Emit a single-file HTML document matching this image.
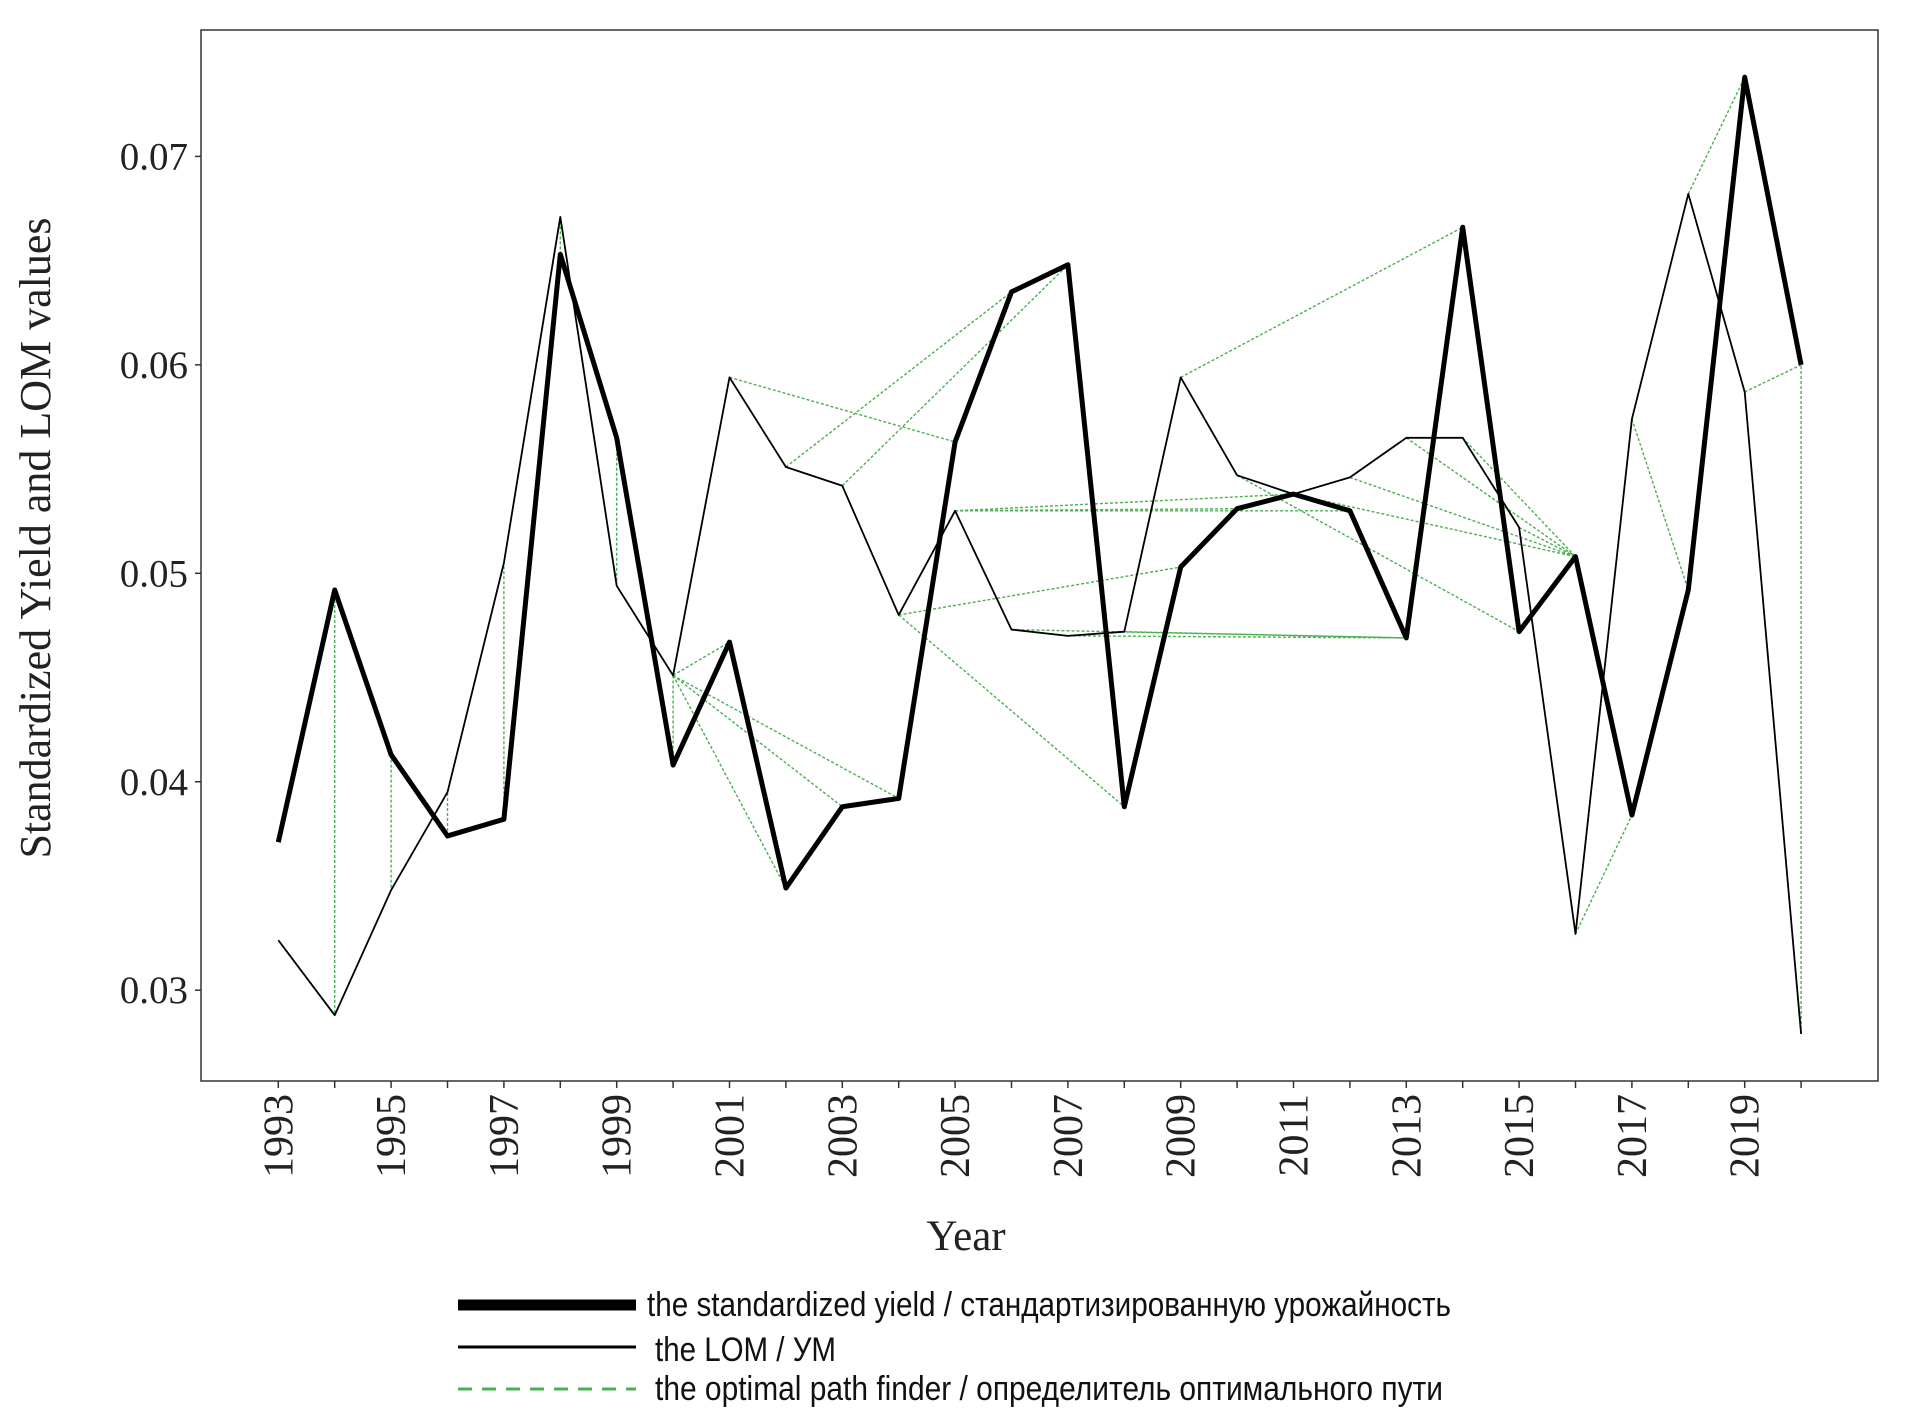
<!DOCTYPE html>
<html><head><meta charset="utf-8"><style>
html,body{margin:0;padding:0;background:#fff}
svg{display:block}
.tk{font-family:"Liberation Serif",serif;font-size:39px;fill:#222}
.lg{font-family:"Liberation Sans Narrow","Liberation Sans","DejaVu Sans Condensed",sans-serif;font-size:34px;fill:#111}
</style></head><body>
<svg id="chart" width="1909" height="1413" viewBox="0 0 1909 1413" xmlns="http://www.w3.org/2000/svg">
<rect x="201" y="30" width="1677" height="1051" fill="#fff" stroke="#333" stroke-width="1.5"/>
<g id="grid"></g>
<g id="green"></g>
<g id="lines"></g>
<text class="tk" transform="translate(50,538) rotate(-90)" text-anchor="middle" style="font-size:44px">Standardized Yield and LOM values</text>
<text class="tk" x="966" y="1250" text-anchor="middle" style="font-size:43px">Year</text>
<g>
<line x1="458" y1="1305" x2="636" y2="1305" stroke="#000" stroke-width="11"/>
<text class="lg" x="647" y="1316" textLength="804" lengthAdjust="spacingAndGlyphs">the standardized yield / стандартизированную урожайность</text>
<line x1="458" y1="1347" x2="636" y2="1347" stroke="#000" stroke-width="3"/>
<text class="lg" x="655" y="1361" textLength="181" lengthAdjust="spacingAndGlyphs">the LOM / УМ</text>
<line x1="458" y1="1389" x2="636" y2="1389" stroke="#4caf50" stroke-width="3" stroke-dasharray="14,10"/>
<text class="lg" x="655" y="1400" textLength="788" lengthAdjust="spacingAndGlyphs">the optimal path finder / определитель оптимального пути</text>
</g>
</svg>
<script>
const years=[1993,1994,1995,1996,1997,1998,1999,2000,2001,2002,2003,2004,2005,2006,2007,2008,2009,2010,2011,2012,2013,2014,2015,2016,2017,2018,2019,2020];
const yieldVals=[.0371,.0492,.0413,.0374,.0382,.0653,.0565,.0408,.0467,.0349,.0388,.0392,.0563,.0635,.0648,.0388,.0503,.0531,.0538,.0530,.0469,.0666,.0472,.0508,.0384,.0492,.0738,.0600];
const lomVals=[.0324,.0288,.0348,.0395,.0505,.0671,.0494,.0451,.0594,.0551,.0542,.0480,.0530,.0473,.0470,.0472,.0594,.0547,.0538,.0546,.0565,.0565,.0522,.0327,.0574,.0682,.0587,.0279];
const yTicks=[0.03,0.04,0.05,0.06,0.07];
const xTickYears=[1993,1995,1997,1999,2001,2003,2005,2007,2009,2011,2013,2015,2017,2019];
// green path links: [fromYear, fromSeries, toYear, toSeries]  (L = LOM, Y = yield)
const links=[[1994,'Y',1994,'L'],[1995,'Y',1995,'L'],[1996,'Y',1996,'L'],[1997,'Y',1997,'L'],[1998,'Y',1998,'L'],[1999,'Y',1999,'L'],
[2000,'L',2000,'Y'],[2000,'L',2001,'Y'],[2000,'L',2002,'Y'],[2000,'L',2003,'Y'],[2000,'L',2004,'Y'],
[2001,'L',2005,'Y'],[2002,'L',2006,'Y'],[2003,'L',2007,'Y'],[2004,'L',2008,'Y'],[2004,'L',2009,'Y'],
[2005,'L',2010,'Y'],[2005,'L',2011,'Y'],[2005,'L',2012,'Y'],[2006,'L',2013,'Y'],[2007,'L',2013,'Y'],[2008,'L',2013,'Y'],
[2009,'L',2014,'Y'],[2010,'L',2015,'Y'],[2011,'L',2016,'Y'],[2012,'L',2016,'Y'],[2013,'L',2016,'Y'],[2014,'L',2016,'Y'],[2015,'L',2016,'Y'],
[2016,'L',2017,'Y'],[2017,'L',2018,'Y'],[2018,'L',2019,'Y'],[2019,'L',2020,'Y'],[2020,'L',2020,'Y']];

const NS='http://www.w3.org/2000/svg';
const xS=y=>278.3+(y-1993)*56.4;
const yS=v=>156.4+(0.07-v)*20845;
function val(yr,s){const i=years.indexOf(yr);return s==='Y'?yieldVals[i]:lomVals[i];}
const grid=document.getElementById('grid');
yTicks.forEach(t=>{
  const l=document.createElementNS(NS,'line');
  l.setAttribute('x1',195);l.setAttribute('x2',201);l.setAttribute('y1',yS(t));l.setAttribute('y2',yS(t));l.setAttribute('stroke','#333');l.setAttribute('stroke-width',1.5);
  
  
  grid.appendChild(l);
  const tx=document.createElementNS(NS,'text');
  tx.setAttribute('class','tk');tx.setAttribute('x',188);tx.setAttribute('y',yS(t)+13);tx.setAttribute('text-anchor','end');
  tx.textContent=t.toFixed(2);
  
  
  grid.appendChild(tx);
});
years.forEach(yr=>{
  const l=document.createElementNS(NS,'line');
  l.setAttribute('x1',xS(yr));l.setAttribute('x2',xS(yr));l.setAttribute('y1',1081);l.setAttribute('y2',1088);l.setAttribute('stroke','#333');l.setAttribute('stroke-width',1.5);
  
  
  grid.appendChild(l);
});
xTickYears.forEach(yr=>{
  const tx=document.createElementNS(NS,'text');
  tx.setAttribute('class','tk');
  tx.setAttribute('transform','translate('+(xS(yr)+14)+',1094) rotate(-90)');
  tx.setAttribute('text-anchor','end');
  tx.setAttribute('style','font-size:42px');
  tx.textContent=yr;
  
  
  grid.appendChild(tx);
});
const green=document.getElementById('green');
links.forEach(k=>{
  const l=document.createElementNS(NS,'line');
  l.setAttribute('x1',xS(k[0]));l.setAttribute('y1',yS(val(k[0],k[1])));
  l.setAttribute('x2',xS(k[2]));l.setAttribute('y2',yS(val(k[2],k[3])));
  l.setAttribute('stroke','#4caf50');l.setAttribute('stroke-width',1.4);l.setAttribute('stroke-dasharray','3,2');
  
  
  green.appendChild(l);
});
const lines=document.getElementById('lines');
function poly(vals,w,name){
  const p=document.createElementNS(NS,'polyline');
  p.setAttribute('points',years.map((y,i)=>xS(y)+','+yS(vals[i])).join(' '));
  p.setAttribute('fill','none');p.setAttribute('stroke','#000');p.setAttribute('stroke-width',w);p.setAttribute('stroke-linejoin','round');
  
  
  lines.appendChild(p);
}
poly(lomVals,1.8,'lom-line');
poly(yieldVals,5,'yield-line');
</script>
</body></html>
